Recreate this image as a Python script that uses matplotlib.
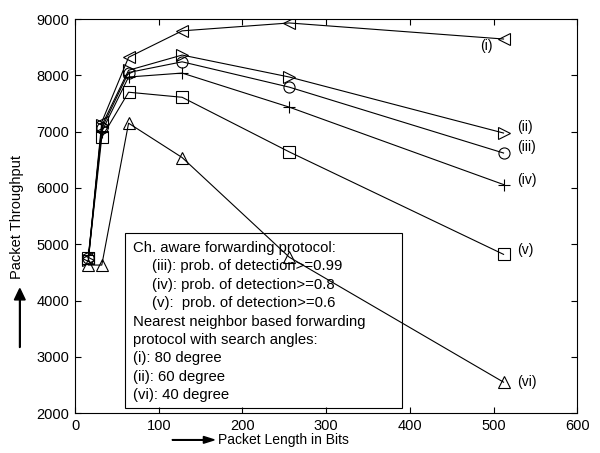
import matplotlib
matplotlib.use("Agg")
import matplotlib.pyplot as plt
from matplotlib.patches import Rectangle, FancyArrow

plt.rcParams['font.family'] = ['Liberation Sans', 'DejaVu Sans']

# packet length (bits)
packet_len = [16, 32, 64, 128, 256, 512]

# packet throughput per curve
thr_i = [4760, 7170, 8320, 8790, 8930, 8645]
thr_ii = [4720, 7110, 8090, 8360, 7970, 6975]
thr_iii = [4760, 7060, 8050, 8240, 7790, 6620]
thr_iv = [4800, 7000, 7970, 8040, 7435, 6060]
thr_v = [4750, 6900, 7700, 7610, 6640, 4820]
thr_vi = [4630, 4630, 7150, 6540, 4770, 2550]

curve_names = ['(i)', '(ii)', '(iii)', '(iv)', '(v)', '(vi)']

# (indented?, text)
legend_lines = [
    (False, 'Ch. aware forwarding protocol:'),
    (True, '(iii): prob. of detection>=0.99'),
    (True, '(iv): prob. of detection>=0.8'),
    (True, '(v):  prob. of detection>=0.6'),
    (False, 'Nearest neighbor based forwarding'),
    (False, 'protocol with search angles:'),
    (False, '(i): 80 degree'),
    (False, '(ii): 60 degree'),
    (False, '(vi): 40 degree'),
]

fig = plt.figure(figsize=(6.0, 4.53), dpi=100)
ax = fig.add_axes([0.125, 0.088, 0.837, 0.870])

series = [
    (thr_i, '<'),
    (thr_ii, '>'),
    (thr_iii, 'o'),
    (thr_iv, '+'),
    (thr_v, 's'),
    (thr_vi, '^'),
]
for ys, mk in series:
    ax.plot(packet_len, ys, color='black', lw=0.8, marker=mk, markersize=8,
            markerfacecolor='none', markeredgecolor='black', markeredgewidth=0.8,
            zorder=3)

# curve labels next to the last point
offsets = [(-17, -5), (10, 4), (10, 4), (10, 3), (10, 3), (10, 0)]
for name, (ys, mk), (dx, dy) in zip(curve_names, series, offsets):
    ax.annotate(name, (packet_len[-1], ys[-1]), xytext=(dx, dy),
                textcoords='offset points', fontsize=10, va='center')

ax.set_xlim(0, 600)
ax.set_ylim(2000, 9000)
ax.set_xticks(range(0, 601, 100))
ax.set_yticks(range(2000, 9001, 1000))
ax.tick_params(direction='in', top=True, right=True, labelsize=10.5, length=4, pad=4)
for s in ax.spines.values():
    s.set_linewidth(0.8)

# explanation box (under the curves)
ax.add_patch(Rectangle((0.1, 0.013), 0.551, 0.444, transform=ax.transAxes,
                       facecolor='white', edgecolor='black', lw=0.8, zorder=1))
y0 = 0.419
for k, (indent, line) in enumerate(legend_lines):
    ax.text(0.153 if indent else 0.1155, y0 - k * 0.0467, line, transform=ax.transAxes,
            fontsize=10.7, va='center', ha='left', zorder=2)

# axis labels with arrows
fig.text(0.363, 0.029, 'Packet Length in Bits', fontsize=10, va='center', ha='left')
fig.patches.append(FancyArrow(
    0.287, 0.029, 0.07, 0, width=0.001, head_width=0.015, head_length=0.018,
    color='black', transform=fig.transFigure, length_includes_head=True))
fig.text(0.028, 0.52, 'Packet Throughput', fontsize=10.5, rotation=90, va='center', ha='center')
fig.patches.append(FancyArrow(
    0.033, 0.233, 0, 0.13, width=0.001, head_width=0.018, head_length=0.025,
    color='black', transform=fig.transFigure, length_includes_head=True))

fig.savefig('out.png', dpi=100)
